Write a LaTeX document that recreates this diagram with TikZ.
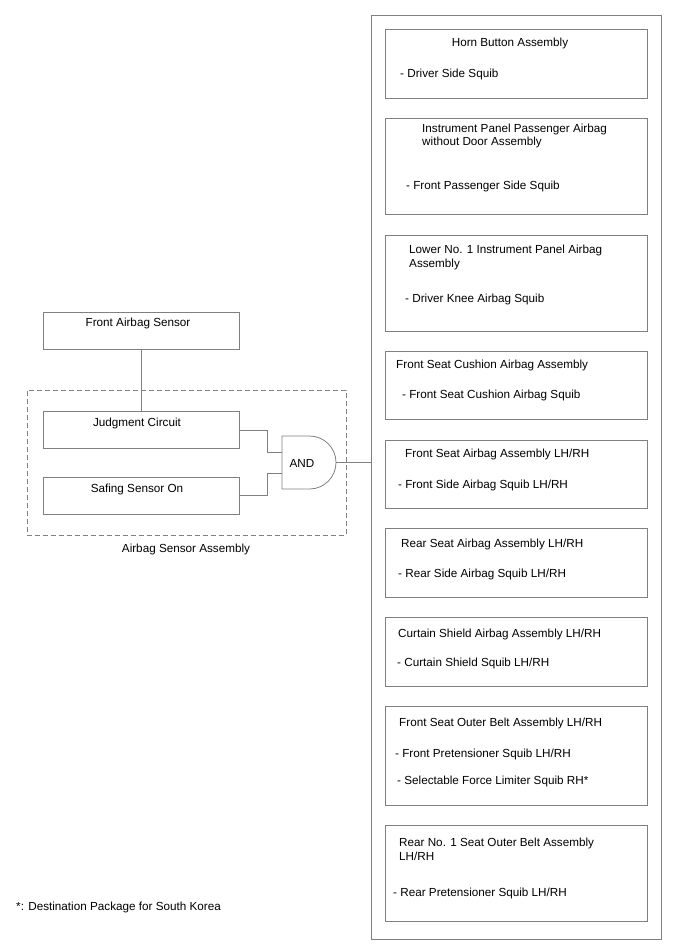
\documentclass[tikz,border=0pt]{standalone}
\usepackage{fontspec}
\setmainfont{Liberation Sans}
\begin{document}
\begin{tikzpicture}[x=1pt,y=-1pt,
  font=\fontsize{11.7pt}{13.8pt}\selectfont,
  frame/.style={draw=linegray, line width=0.8pt, inner sep=0pt},
  wire/.style={draw=linegray, line width=0.8pt},
  lbl/.style={anchor=west, inner sep=0pt, align=left, yshift=-1.5pt},
  clbl/.style={anchor=center, inner sep=0pt, yshift=-1.5pt}]
\definecolor{linegray}{RGB}{128,128,128}
\useasboundingbox (0,0) rectangle (688,949);
% outer column
\node[frame, minimum width=290pt, minimum height=924pt] (outer) at (516,477) {};
% right boxes
\node[frame, minimum width=262pt, minimum height=69pt] (b1) at (516,63.5) {};
\node[clbl] (t1a) at (510,42) {Horn Button Assembly};
\node[lbl] (t1b) at (400,73) {- Driver Side Squib};
\node[frame, minimum width=262pt, minimum height=96pt] (b2) at (516,166) {};
\node[lbl] (t2a) at (422,134.5) {Instrument Panel Passenger Airbag\\without Door Assembly};
\node[lbl] (t2b) at (406,185) {- Front Passenger Side Squib};
\node[frame, minimum width=262pt, minimum height=96pt] (b3) at (516,283) {};
\node[lbl] (t3a) at (409,256) {Lower No. 1 Instrument Panel Airbag\\Assembly};
\node[lbl] (t3b) at (405,298) {- Driver Knee Airbag Squib};
\node[frame, minimum width=262pt, minimum height=68pt] (b4) at (516,385) {};
\node[lbl] (t4a) at (396,364) {Front Seat Cushion Airbag Assembly};
\node[lbl] (t4b) at (402,394) {- Front Seat Cushion Airbag Squib};
\node[frame, minimum width=262pt, minimum height=68pt] (b5) at (516,474) {};
\node[lbl] (t5a) at (405,453) {Front Seat Airbag Assembly LH/RH};
\node[lbl] (t5b) at (398,484) {- Front Side Airbag Squib LH/RH};
\node[frame, minimum width=262pt, minimum height=69pt] (b6) at (516,562.5) {};
\node[lbl] (t6a) at (401,543) {Rear Seat Airbag Assembly LH/RH};
\node[lbl] (t6b) at (398,573) {- Rear Side Airbag Squib LH/RH};
\node[frame, minimum width=262pt, minimum height=69pt] (b7) at (516,651.5) {};
\node[lbl] (t7a) at (398,633) {Curtain Shield Airbag Assembly LH/RH};
\node[lbl] (t7b) at (397,662) {- Curtain Shield Squib LH/RH};
\node[frame, minimum width=262pt, minimum height=99pt] (b8) at (516,755.5) {};
\node[lbl] (t8a) at (399,722) {Front Seat Outer Belt Assembly LH/RH};
\node[lbl] (t8b) at (395,753) {- Front Pretensioner Squib LH/RH};
\node[lbl] (t8c) at (397,780) {- Selectable Force Limiter Squib RH*};
\node[frame, minimum width=262pt, minimum height=96pt] (b9) at (516,873) {};
\node[lbl] (t9a) at (399,848) {Rear No. 1 Seat Outer Belt Assembly\\LH/RH};
\node[lbl] (t9b) at (393,892) {- Rear Pretensioner Squib LH/RH};
% left side
\node[frame, minimum width=196pt, minimum height=37pt] (fas) at (141,330.5) {};
\node[clbl] (fast) at (138,322) {Front Airbag Sensor};
\node[draw=linegray, dash pattern=on 5pt off 3pt, line width=0.8pt, inner sep=0pt, minimum width=319pt, minimum height=145pt] (asa) at (186.5,462.5) {};
\node[clbl] (asat) at (186,548) {Airbag Sensor Assembly};
\node[frame, minimum width=196pt, minimum height=37pt] (jc) at (141,429.5) {};
\node[clbl] (jct) at (137,422) {Judgment Circuit};
\node[frame, minimum width=196pt, minimum height=37pt] (ss) at (141,495.5) {};
\node[clbl] (sst) at (137,488) {Safing Sensor On};
% AND gate
\draw[wire] (282,436) -- (309.5,436) arc (-90:90:26.5) -- (282,489) -- cycle;
\coordinate (gin1) at (282,452);
\coordinate (gin2) at (282,473);
\coordinate (gout) at (336,462.5);
\node[clbl] (andt) at (302,462) {AND};
% connectors
\draw[wire] (fas.south) -- (jc.north);
\draw[wire] (jc.east |- 0,430) -- (267,430) -- (267,452) -- (gin1);
\draw[wire] (ss.east |- 0,495) -- (267,495) -- (267,473) -- (gin2);
\draw[wire] (gout) -- (gout -| outer.west);
% footnote
\node[lbl] (foot) at (16,906) {*: Destination Package for South Korea};
\end{tikzpicture}
\end{document}
